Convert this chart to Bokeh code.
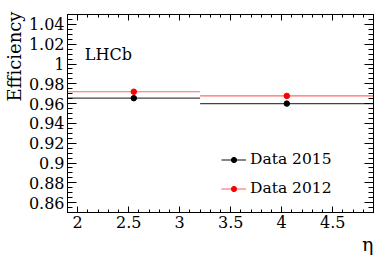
import numpy as np
from bokeh.plotting import figure
from bokeh.models import (ColumnDataSource, FixedTicker, LinearAxis, Range1d, Title,
                          Label, Legend, LegendItem, CustomJSTickFormatter, CustomLabelingPolicy)
from bokeh.embed import file_html
from bokeh.resources import INLINE

# ---- data ----
eta_lo = [1.9, 3.2]
eta_hi = [3.2, 4.9]
eta_center = [2.55, 4.05]
eff_2015 = [0.9655, 0.9600]
eff_2012 = [0.9720, 0.9678]

x_ticks = [2.0, 2.5, 3.0, 3.5, 4.0, 4.5]
y_ticks = [0.86, 0.88, 0.90, 0.92, 0.94, 0.96, 0.98, 1.00, 1.02, 1.04]
x_minor = list(np.round(np.arange(1.9, 4.9001, 0.1), 3))
y_minor = list(np.round(np.arange(0.85, 1.0501, 0.005), 4))

FONT = "DejaVu Serif"

p = figure(width=392, height=266, output_backend="svg", toolbar_location=None,
           x_range=Range1d(1.9, 4.9), y_range=Range1d(0.85, 1.05),
           x_axis_location=None, y_axis_location=None,
           min_border_left=62, min_border_right=19, min_border_top=14, min_border_bottom=54)
p.grid.visible = False
p.outline_line_color = "black"
p.outline_line_width = 1
p.background_fill_color = "white"
p.border_fill_color = "white"

fmt = CustomJSTickFormatter(code="return String(parseFloat(tick.toFixed(3)));")
hide = CustomLabelingPolicy(code="for (const i of indices) indices.unset(i)")


def make_axis(ticks, minor, show_labels, major_len, minor_len):
    ax = LinearAxis(ticker=FixedTicker(ticks=ticks, minor_ticks=minor), formatter=fmt)
    ax.major_tick_in = major_len
    ax.major_tick_out = 0
    ax.minor_tick_in = minor_len
    ax.minor_tick_out = 0
    ax.axis_line_color = "black"
    ax.major_tick_line_color = "black"
    ax.minor_tick_line_color = "black"
    ax.major_label_text_font = FONT
    ax.major_label_text_color = "black"
    if show_labels:
        ax.major_label_text_font_size = "16px"
        ax.major_label_standoff = 3
    else:
        ax.major_label_text_font_size = "1px"
        ax.major_label_standoff = 0
        ax.major_label_policy = hide
    return ax


p.add_layout(make_axis(x_ticks, x_minor, True, 6, 3), "below")
p.add_layout(make_axis(x_ticks, x_minor, False, 6, 3), "above")
p.add_layout(make_axis(y_ticks, y_minor, True, 9, 5), "left")
p.add_layout(make_axis(y_ticks, y_minor, False, 9, 5), "right")

p.add_layout(Title(text="Efficiency", align="right", text_font=FONT, text_font_size="18px",
                   text_font_style="normal", text_color="black", standoff=2, offset=-3), "left")
p.add_layout(Title(text="η", align="right", text_font=FONT, text_font_size="19px",
                   text_font_style="normal", text_color="black", standoff=0, offset=0), "below")

src15 = ColumnDataSource(dict(x=eta_center, lo=eta_lo, hi=eta_hi, y=eff_2015))
src12 = ColumnDataSource(dict(x=eta_center, lo=eta_lo, hi=eta_hi, y=eff_2012))

l15 = p.segment(x0="lo", x1="hi", y0="y", y1="y", source=src15, line_color="#444444", line_width=1.3)
c15 = p.scatter(x="x", y="y", source=src15, size=5.5, color="black")
l12 = p.segment(x0="lo", x1="hi", y0="y", y1="y", source=src12, line_color="#ff5050", line_width=1.1,
                line_alpha=0.85)
c12 = p.scatter(x="x", y="y", source=src12, size=5.5, color="red")

legend = Legend(items=[LegendItem(label="Data 2015", renderers=[l15, c15]),
                       LegendItem(label="Data 2012", renderers=[l12, c12])],
                location=(154, 14), orientation="vertical")
legend.border_line_color = None
legend.background_fill_alpha = 0
legend.label_text_font = FONT
legend.label_text_font_size = "15.5px"
legend.label_text_color = "black"
legend.glyph_width = 25
legend.glyph_height = 13
legend.label_height = 20
legend.label_standoff = 4
legend.spacing = 9
legend.padding = 0
legend.margin = 0
p.add_layout(legend, "center")

p.add_layout(Label(x=2.07, y=1.0096, text="LHCb", text_font=FONT, text_font_size="16px",
                   text_color="black", text_baseline="alphabetic", text_align="left"))

open("out.html", "w").write(file_html(p, INLINE))
